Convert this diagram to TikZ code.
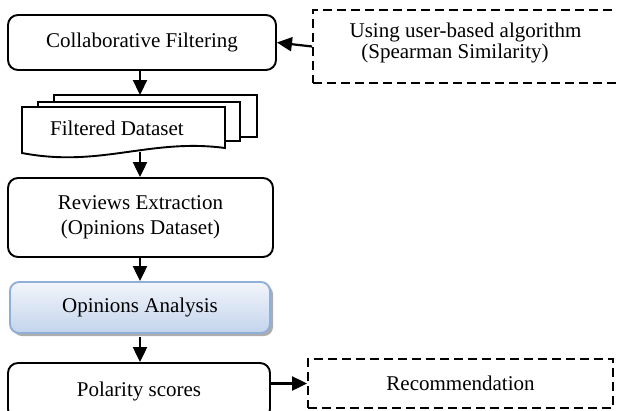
\documentclass[tikz,border=0pt]{standalone}
\usepackage{fontspec}
\setmainfont{Liberation Serif}
\usetikzlibrary{arrows.meta,shadows}
\begin{document}
\begin{tikzpicture}[x=1pt,y=-1pt,
  every node/.style={font=\fontsize{21}{25}\selectfont, inner sep=0pt},
  procbox/.style={draw=black, line width=1.9pt, rounded corners=10pt, fill=white},
  dashbox/.style={draw=black, line width=1.9pt, dash pattern=on 9pt off 5pt},
  flow/.style={line width=2.2pt, -{Triangle[length=15pt,width=14pt]}},
  docshape/.style={draw=black, line width=1.9pt, fill=white, line join=miter}
]
\useasboundingbox (0,0) rectangle (617,410);
\definecolor{oatop}{HTML}{F2F5FB}
\definecolor{oabot}{HTML}{C3D4EC}
\definecolor{oaedge}{HTML}{8FAED8}

% Collaborative filtering
\node[procbox, minimum width=268pt, minimum height=55pt] (cf) at (142,42.5) {Collaborative Filtering};

% dashed box top right (runs past the right edge)
\node[dashbox, minimum width=330pt, minimum height=73pt] (ub) at (478,46.5) {};
\node (ubl1) at (465.5,32) {Using user-based algorithm};
\node (ubl2) at (455,53) {(Spearman Similarity)};

% document stack
\draw[docshape] (54,95) -- (257,95) -- (257,137) -- (240,137) -- (54,137) -- cycle;
\draw[docshape] (38,102) -- (240,102) -- (240,141) -- (225,141) -- (38,141) -- cycle;
\draw[docshape] (22,107) -- (225,107) -- (225,148) .. controls (150,138) and (100,168) .. (22,153) -- cycle;
\node (fd) at (117,128) {Filtered Dataset};
\coordinate (fdtop) at (140,95);
\coordinate (fdbot) at (140,151.5);

% Reviews extraction
\node[procbox, minimum width=265pt, minimum height=79pt, align=center] (re) at (140.5,217.5) {Reviews Extraction\\(Opinions Dataset)};

% Opinions analysis
\node[draw=oaedge, line width=1.9pt, rounded corners=9pt, minimum width=260pt, minimum height=51pt,
  top color=oatop, bottom color=oabot,
  drop shadow={shadow xshift=3pt, shadow yshift=-3pt, fill=black!40, opacity=0.8}] (oa) at (140,307.5) {Opinions Analysis};

% Polarity scores
\node[procbox, minimum width=262pt, minimum height=56pt] (ps) at (139,391) {Polarity scores};

% Recommendation
\node[dashbox, minimum width=305pt, minimum height=49pt] (rec) at (460.5,383.5) {Recommendation};

% connectors
\draw[flow] (ub.west) -- (cf.east);
\draw[flow] (cf.south -| fdtop) -- (fdtop);
\draw[flow] (fdbot) -- (re.north -| fdbot);
\draw[flow] (re.south -| fdbot) -- (oa.north -| fdbot);
\draw[flow] ([yshift=-3pt]oa.south -| fdbot) -- (ps.north -| fdbot);
\draw[flow] (ps.east |- rec.west) -- (rec.west);
\end{tikzpicture}
\end{document}
